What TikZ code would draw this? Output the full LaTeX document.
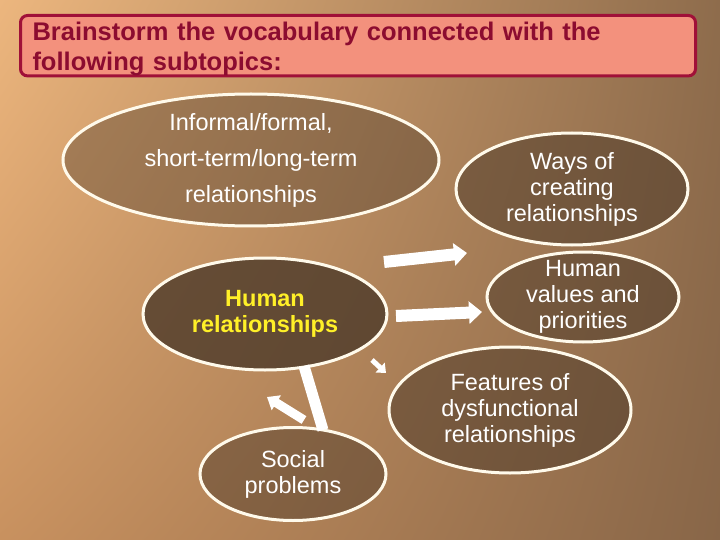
\documentclass[tikz,border=0pt]{standalone}
\usepackage{fontspec}
\setmainfont{Liberation Sans}
\usetikzlibrary{shapes.geometric, arrows.meta, shadings}

\definecolor{bgA}{RGB}{236,182,126}
\definecolor{bgB}{RGB}{142,108,76}
\definecolor{bgC}{RGB}{200,145,95}
\definecolor{bgD}{RGB}{136,102,72}
\definecolor{titlefill}{RGB}{243,145,125}
\definecolor{titleline}{RGB}{160,16,56}
\definecolor{titletext}{RGB}{140,12,48}
\definecolor{bubblefill}{RGB}{74,56,40}
\definecolor{rim}{RGB}{255,250,235}
\definecolor{hrtext}{RGB}{255,240,40}

\tikzset{
  titlebox/.style={draw=titleline, line width=3pt, fill=titlefill, rounded corners=7pt,
    inner xsep=12pt, inner ysep=0pt, text=titletext, align=left,
    font=\fontsize{25.5}{30}\selectfont\bfseries},
  bubble/.style={ellipse, draw=rim, line width=3pt, fill=bubblefill, fill opacity=0.5,
    text opacity=1, text=white, inner sep=-8pt, align=center,
    font=\fontsize{23.5}{26}\selectfont},
  bigarrow/.style={white, line width=12pt, -{Triangle[length=13pt, width=22pt]}},
  smallarrow/.style={white, line width=9pt, -{Triangle[length=11pt, width=17pt]}}
}

\begin{document}
\begin{tikzpicture}[x=1pt, y=-1pt]
    % Fondo
    \useasboundingbox (0,0) rectangle (720,540);
    \shade[upper left=bgA, upper right=bgB, lower left=bgC, lower right=bgD]
        (0,0) rectangle (720,540);

    % Titulo
    \node[titlebox, anchor=north west, minimum width=675pt, minimum height=57pt,
        text width=651pt] (title) at (19,14)
        {\rule{0pt}{25pt}Brainstorm the vocabulary connected with the\\following subtopics:};

    % Elipses
    \node[bubble, minimum width=376pt, minimum height=132pt, fill opacity=0.38,
        font=\fontsize{23.5}{36}\selectfont] (kinds) at (251,160)
        {Informal/formal,\\short-term/long-term\\relationships};
    \node[bubble, minimum width=232pt, minimum height=112pt] (ways) at (572,189)
        {Ways of\\creating\\relationships};
    \node[bubble, minimum width=192pt, minimum height=90pt] (values) at (583,297)
        {Human\\values and\\priorities};
    \node[bubble, minimum width=242pt, minimum height=126pt] (features) at (510,410)
        {Features of\\dysfunctional\\relationships};
    \node[bubble, minimum width=186pt, minimum height=93pt, fill opacity=0.45] (social) at (293,474)
        {Social\\problems};
    \node[bubble, minimum width=244pt, minimum height=112pt, fill opacity=0.78, text=hrtext,
        font=\fontsize{23.5}{26}\selectfont\bfseries] (human) at (265,314)
        {Human\\relationships};

    % Flechas
    \coordinate (toWaysA) at (384,262);
    \coordinate (toWaysB) at (467,253);
    \coordinate (toValuesA) at (396,316);
    \coordinate (toValuesB) at (482,312);
    \coordinate (toFeatA) at (372,360);
    \coordinate (toFeatB) at (386,373);
    \coordinate (barA) at (304,366);
    \coordinate (barB) at (323,430);
    \coordinate (toHumanA) at (304,420);
    \coordinate (toHumanB) at (267,397);

    \draw[bigarrow] (toWaysA) -- (toWaysB);
    \draw[bigarrow] (toValuesA) -- (toValuesB);
    \draw[white, line width=5pt, -{Triangle[length=8pt, width=13pt]}] (toFeatA) -- (toFeatB);
    \draw[white, line width=11pt] (barA) -- (barB);
    \draw[smallarrow] (toHumanA) -- (toHumanB);
\end{tikzpicture}
\end{document}
